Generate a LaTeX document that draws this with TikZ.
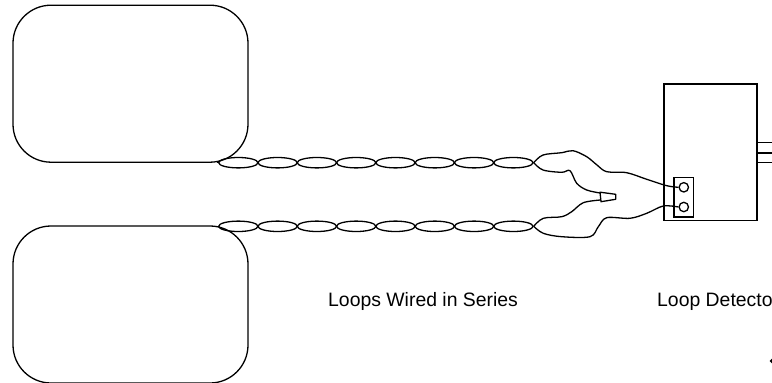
\documentclass[tikz,border=0pt]{standalone}
\usepackage{fontspec}
\setmainfont{Liberation Sans}
\usetikzlibrary{shapes.geometric, positioning, calc}
\tikzset{
    wire/.style={line width=1.3pt, line join=round},
    loopbox/.style={draw, line width=1.3pt, rectangle, rounded corners=38pt, minimum width=235pt, minimum height=157pt, inner sep=0pt},
    twist/.style={draw, line width=1.3pt, ellipse, minimum width=39.3pt, minimum height=10.4pt, inner sep=0pt},
    screw/.style={draw, line width=1.3pt, circle, minimum size=9.4pt, inner sep=0pt},
    caption/.style={font=\fontsize{19.4}{23}\selectfont, anchor=base west, inner sep=0pt}
}
\begin{document}
\begin{tikzpicture}[x=1pt, y=-1pt]
    \clip (0,0) rectangle (772,383);

    \node[loopbox] (loopa) at (130.5,83.7) {};
    \node[loopbox] (loopb) at (130.5,304.5) {};

    % twisted pairs
    \foreach \i in {1,...,8} {
        \node[twist] (twa\i) at ({199+39.3*\i},162.7) {};
        \node[twist] (twb\i) at ({199+39.3*\i},226.3) {};
    }
    \draw[wire] (218,162.3) -- (twa1.west);
    \draw[wire] (218,226) -- (twb1.west);

    % detector
    \node[draw, line width=1.3pt, rectangle, minimum width=93pt, minimum height=136.7pt] (det) at (710.5,152.4) {};
    \node[draw, line width=1.3pt, rectangle, minimum width=19.7pt, minimum height=39.7pt] (term) at (683.8,197) {};
    \node[screw] (terma) at (683.8,187.3) {};
    \node[screw] (termb) at (683.8,207) {};

    % wire nut
    \coordinate (nuta) at (600,193);
    \coordinate (nutb) at (600.5,200);
    \draw[wire] (nuta) ++(0,-0.8) -- (615.7,194.3) -- (615.7,199.3) -- (601,201.7) -- cycle;

    \draw[wire] plot[smooth, tension=0.55] coordinates {(twa8.east) (543,155) (561.7,152.7) (573,150.7) (586.7,156.7) (597,165) (606.7,171.7) (626.7,172.7) (646.7,179.3) (666.7,185.7) (terma.west)};
    \draw[wire] plot[smooth, tension=0.55] coordinates {(twa8.east) (543,170) (561.7,172.3) (570,170.7) (576.7,183.3) (586.7,190) (nuta)};
    \draw[wire] plot[smooth, tension=0.55] coordinates {(twb8.east) (543.3,218.3) (561.7,216.7) (571.7,211.7) (583.3,202.7) (nutb)};
    \draw[wire] plot[smooth, tension=0.55] coordinates {(twb8.east) (543.3,233.3) (561.7,236.7) (590,236.7) (598.3,226.7) (606.7,217.7) (630,218.3) (646.7,213.3) (663.3,206) (termb.west)};

    % outgoing leads
    \coordinate (outa) at (772,142.7);
    \coordinate (outb) at (772,153);
    \coordinate (outc) at (772,162.3);
    \draw[wire] (outa -| det.east) -- (outa);
    \draw[wire] (outb -| det.east) -- (outb);
    \draw[wire] (outc -| det.east) -- (outc);

    \node[caption] (series) at (328,306) {Loops Wired in Series};
    \node[caption] (detlabel) at (657,306) {Loop Detecto};
    \fill (769.5,361) -- (772,358.5) -- (772,363.5) -- cycle;
\end{tikzpicture}
\end{document}
